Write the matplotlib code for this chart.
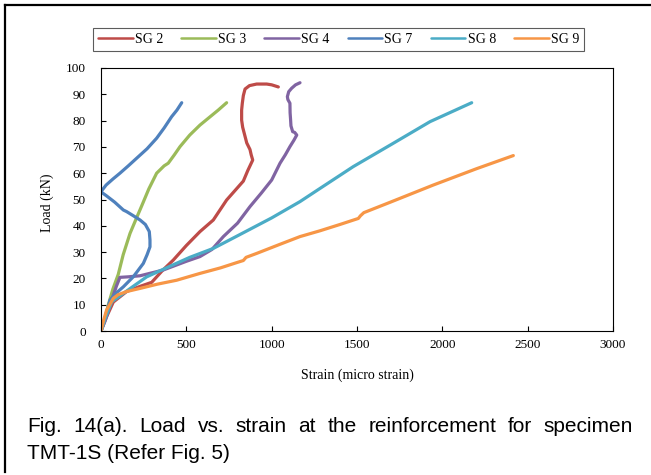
import matplotlib
matplotlib.use('Agg')
import matplotlib.pyplot as plt
from matplotlib.lines import Line2D

# ── data (strain in micro strain, load in kN) ─────────────────────────────────
sg2_x = [0, 30, 72, 150, 230, 297, 360, 424, 500, 580, 658, 736, 800, 834, 860, 889,
         880, 873, 854, 844, 830, 824, 824, 828, 834, 844, 870, 912, 971, 1000, 1039]
sg2_y = [0, 5, 11, 15, 17, 18.5, 23, 27, 32.5, 37.8, 42.2, 49.8, 54.5, 57, 61, 65,
         67, 69, 71.5, 74, 77.5, 80.2, 84, 86.6, 89.5, 92, 93.3, 93.9, 93.9, 93.6, 92.8]

sg3_x = [0, 20, 43, 70, 101, 130, 170, 205, 238, 280, 326, 370, 394, 430, 463, 520,
         580, 640, 687, 736]
sg3_y = [0, 4, 10, 16, 21.5, 29, 37.1, 42.5, 47.5, 54, 60, 62.8, 63.8, 67, 70.1, 74.5,
         78.3, 81.5, 84, 86.8]

sg4_x = [0, 25, 63, 90, 111, 160, 229, 365, 500, 580, 650, 717, 800, 873, 940, 1000,
         1049, 1080, 1107, 1130, 1147, 1135, 1123, 1113, 1111, 1108, 1107, 1095, 1092,
         1100, 1117, 1140, 1166]
sg4_y = [0, 4, 11.8, 17, 20.4, 20.6, 21, 23.2, 26.5, 28.3, 31, 35.9, 41, 47.3, 52.5,
         57.4, 63.8, 67, 70.1, 72.5, 74.5, 75.5, 75.8, 78, 80.2, 83, 86.6, 88, 89.1,
         91, 92.3, 93.6, 94.4]

sg7_x = [0, 20, 53, 90, 131, 189, 248, 270, 287, 287, 283, 260, 229, 190, 150, 131,
         80, 30, 4, 0, 30, 70, 111, 160, 209, 270, 326, 370, 414, 445, 473]
sg7_y = [0, 4, 11.8, 14.5, 16.8, 20.6, 25.7, 29, 32, 34.6, 37.8, 40.5, 42.2, 43.8,
         45.4, 46, 49, 51.5, 52.7, 53, 55.5, 57.8, 60, 62.8, 65.7, 69.3, 73.3, 77.2,
         81.5, 84, 86.8]

sg8_x = [0, 25, 63, 131, 200, 268, 400, 520, 658, 800, 1000, 1166, 1283, 1478, 1700,
         1928, 2050, 2172]
sg8_y = [0, 5, 11.1, 14.3, 17.5, 20.6, 24.5, 28, 31.4, 36.2, 43, 49.2, 54.2, 62.5,
         70.9, 79.6, 83.2, 86.8]

sg9_x = [0, 15, 33, 72, 100, 150, 229, 330, 443, 580, 700, 795, 834, 850, 912, 1050,
         1166, 1283, 1400, 1508, 1520, 1540, 1700, 1947, 2200, 2416]
sg9_y = [0, 4, 8, 12.4, 13.8, 15, 16.2, 17.8, 19.3, 21.9, 24, 26, 26.8, 28, 29.5, 33,
         35.9, 38.1, 40.5, 42.8, 43.8, 45, 49.1, 55.5, 61.7, 66.7]

labels = ['SG 2', 'SG 3', 'SG 4', 'SG 7', 'SG 8', 'SG 9']
colors = ['#BE4B48', '#9BBB59', '#8064A2', '#4F81BD', '#4BACC6', '#F79646']
series = [(sg2_x, sg2_y), (sg3_x, sg3_y), (sg4_x, sg4_y),
          (sg7_x, sg7_y), (sg8_x, sg8_y), (sg9_x, sg9_y)]

x_ticks = [0, 500, 1000, 1500, 2000, 2500, 3000]
y_ticks = list(range(0, 101, 10))

caption_1 = 'Fig. 14(a). Load vs. strain at the reinforcement for specimen'
caption_2 = 'TMT-1S (Refer Fig. 5)'

W, H = 651, 475
SERIF = 'Liberation Serif'

fig = plt.figure(figsize=(W / 100, H / 100), dpi=100)
ax = fig.add_axes([101 / W, 1 - 331 / H, 512 / W, 263 / H])

for (xs, ys), lbl, c in zip(series, labels, colors):
    ax.plot(xs, ys, color=c, linewidth=2.3, label=lbl, solid_capstyle='round',
            solid_joinstyle='round')

ax.set_xlim(0, 3000)
ax.set_ylim(0, 100)
ax.set_xticks(x_ticks)
ax.set_yticks(y_ticks)
for sp in ['top', 'right', 'left', 'bottom']:
    ax.spines[sp].set_linewidth(0.8)
    ax.spines[sp].set_color('black')
ax.tick_params(axis='both', direction='in', length=3.5, width=0.8,
               labelsize=9.5, top=False, right=False)
ax.tick_params(axis='x', pad=6)
ax.tick_params(axis='y', pad=11)
for t in ax.get_xticklabels() + ax.get_yticklabels():
    t.set_fontfamily(SERIF)

ax.set_xlabel('Strain (micro strain)', fontsize=10, family=SERIF, va='center')
ax.set_ylabel('Load (kN)', fontsize=10, family=SERIF, va='center')
ax.xaxis.set_label_coords(0.5, (331 - 375) / 263)
ax.yaxis.set_label_coords((47 - 101) / 512, (331 - 203) / 263)

leg = fig.legend(loc='center', bbox_to_anchor=(338.5 / W, 1 - 39.5 / H), ncol=6,
                 prop={'family': SERIF, 'size': 10}, frameon=True, fancybox=False,
                 edgecolor='#333333', handlelength=2.5, handletextpad=0.15,
                 columnspacing=1.3, borderpad=0.35, borderaxespad=0)
leg.get_frame().set_linewidth(0.8)
for ln in leg.get_lines():
    ln.set_linewidth(1.8)

# outer frame (top and left edges only, as in the source image)
fig.add_artist(Line2D([5 / W, 5 / W], [1 - 5 / H, 1 - 472 / H], color='black',
                      linewidth=1.6, transform=fig.transFigure))
fig.add_artist(Line2D([5 / W, 1.0], [1 - 5 / H, 1 - 5 / H], color='black',
                      linewidth=1.6, transform=fig.transFigure))

# caption, first line justified between x=27 and x=633 px
cap_size = 15
renderer = fig.canvas.get_renderer()
words = caption_1.split()
txts = [fig.text(0, 0, w, fontsize=cap_size, family='Liberation Sans',
                 va='baseline', ha='left') for w in words]
widths = [t.get_window_extent(renderer).width for t in txts]
left, right = 27, 633
gap = (right - left - sum(widths)) / (len(words) - 1)
xpos = left
for t, w in zip(txts, widths):
    t.set_position((xpos / W, 1 - 431.5 / H))
    xpos += w + gap
fig.text(left / W, 1 - 459 / H, caption_2, fontsize=cap_size,
         family='Liberation Sans', va='baseline', ha='left')

fig.savefig('out.png', dpi=100)
